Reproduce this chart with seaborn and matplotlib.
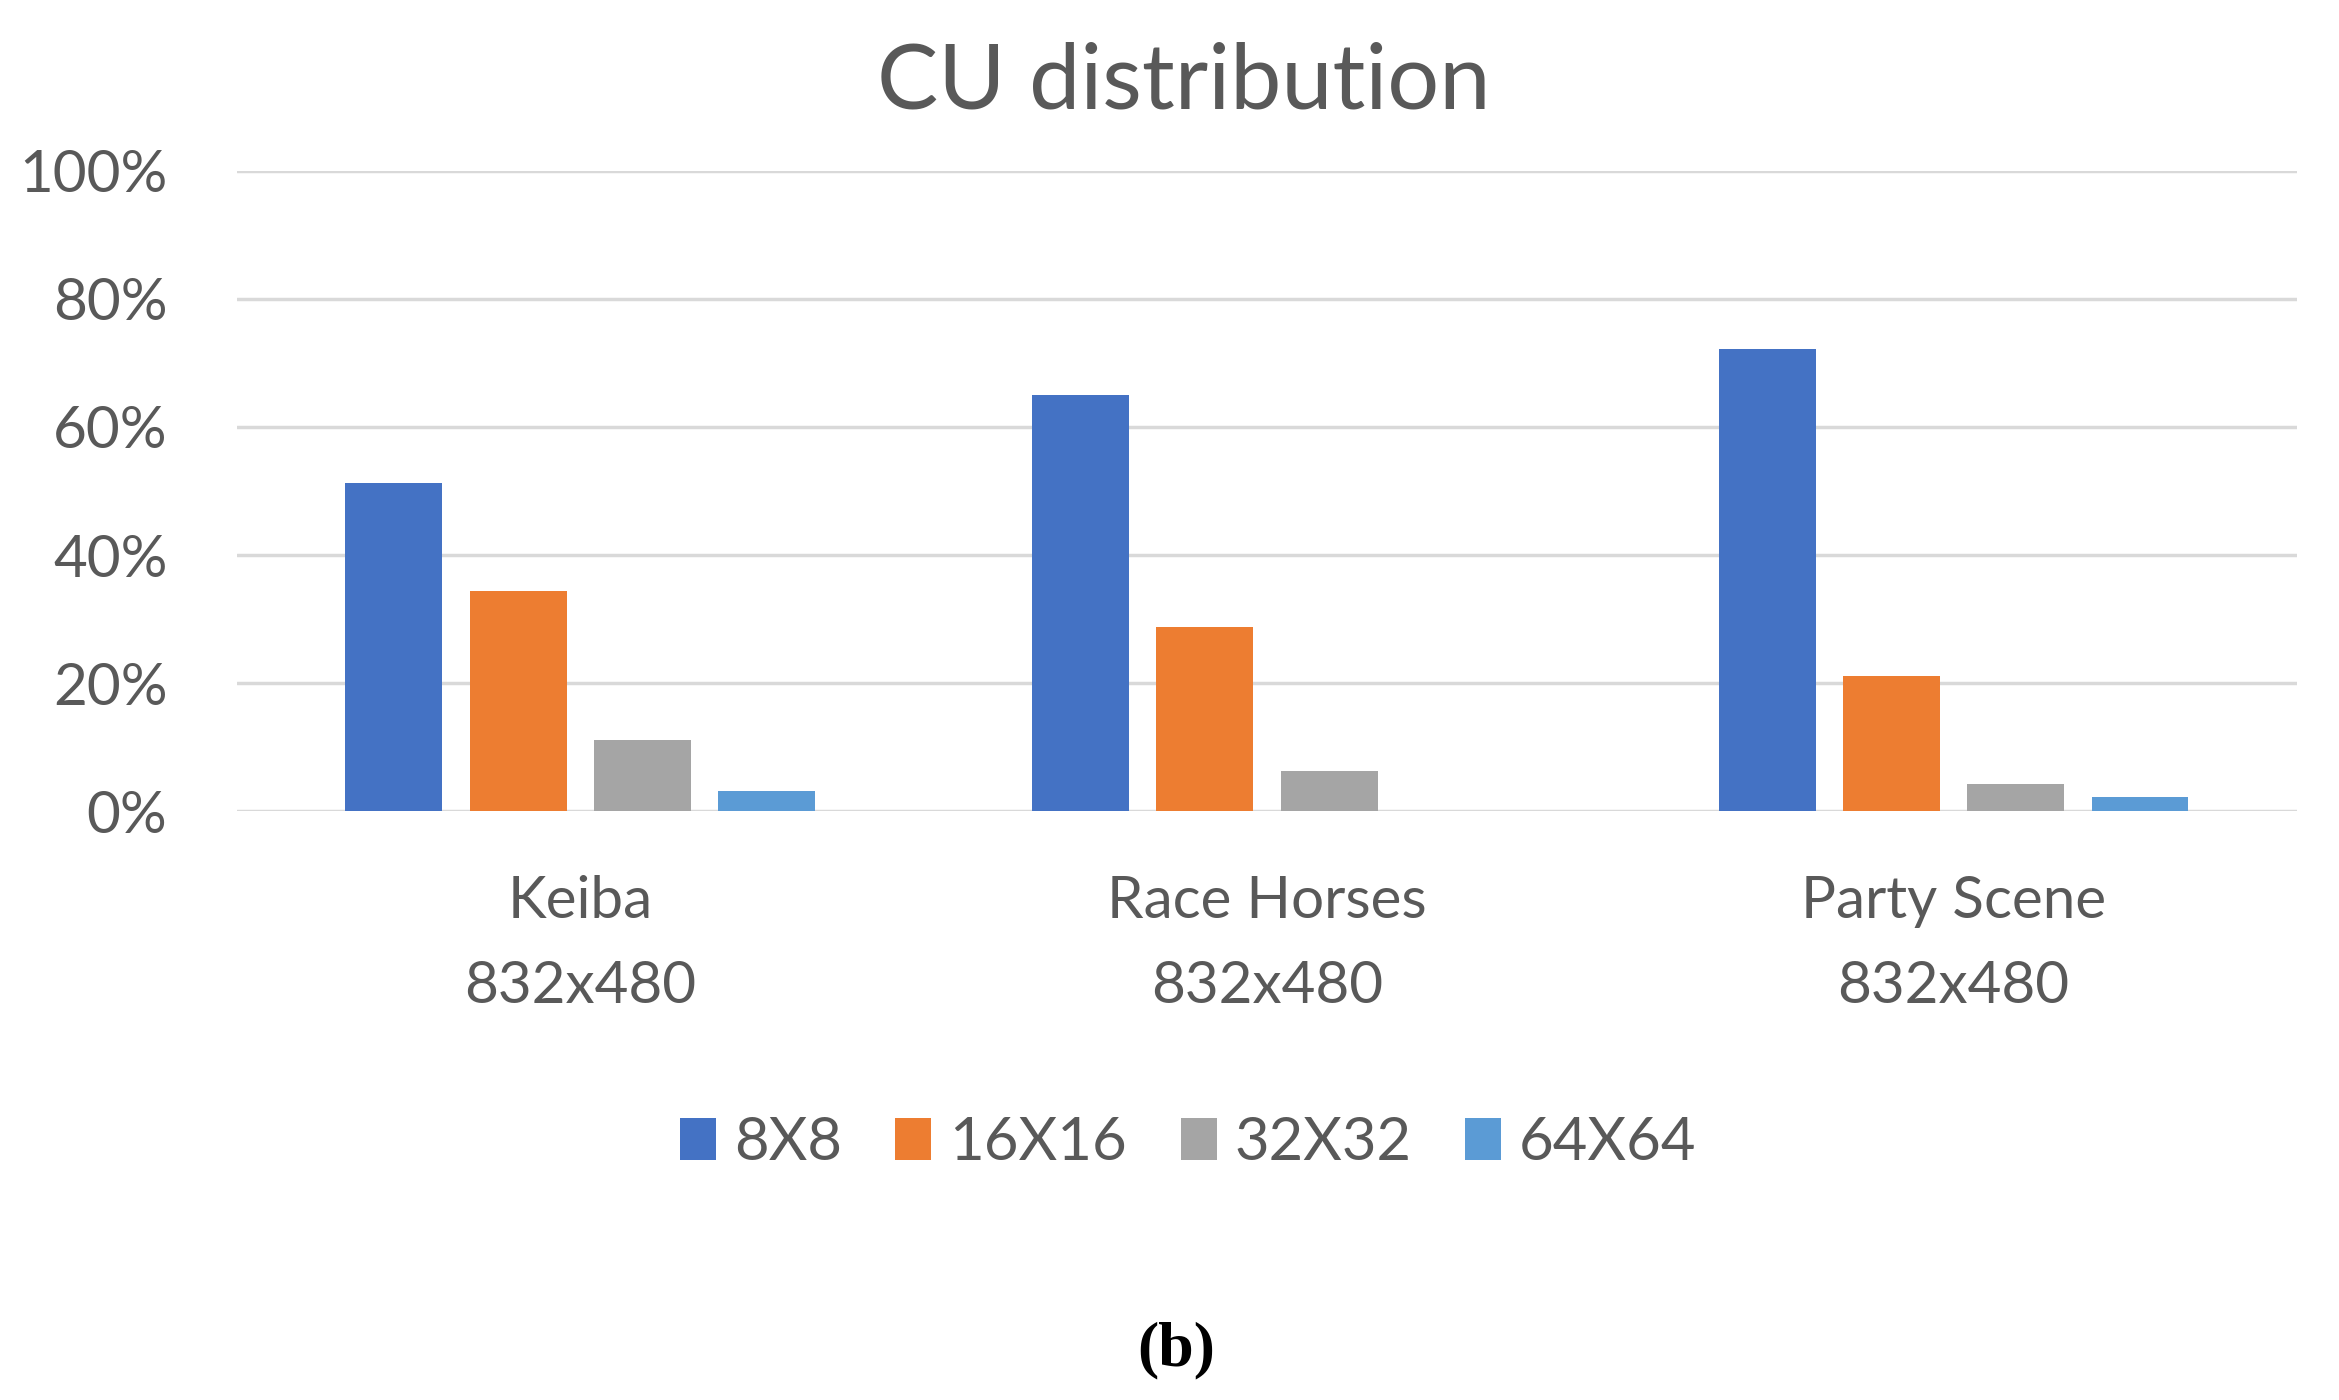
import matplotlib
matplotlib.use("Agg")
import matplotlib.pyplot as plt
import seaborn as sns
import pandas as pd
from matplotlib.ticker import PercentFormatter
from matplotlib.patches import Patch

categories = ["Keiba\n832x480", "Race Horses\n832x480", "Party Scene\n832x480"]
series_names = ["8X8", "16X16", "32X32", "64X64"]
v_8x8 = [0.512, 0.650, 0.722]
v_16x16 = [0.344, 0.288, 0.211]
v_32x32 = [0.112, 0.063, 0.043]
v_64x64 = [0.031, 0.0, 0.022]
colors = ["#4472C4", "#ED7D31", "#A5A5A5", "#5B9BD5"]
yticks = [0, 0.2, 0.4, 0.6, 0.8, 1.0]

rows = []
for name, vals in zip(series_names, [v_8x8, v_16x16, v_32x32, v_64x64]):
    for c, v in zip(categories, vals):
        rows.append({"category": c, "size": name, "value": v})
df = pd.DataFrame(rows)

sns.set_theme(style="white")
plt.rcParams["font.family"] = ["Lato", "DejaVu Sans"]
text_color = "#595959"

fig = plt.figure(figsize=(23.39, 14), dpi=100)
ax = fig.add_axes([0.1013, 0.4205, 0.8807, 0.4575])

sns.barplot(data=df, x="category", y="value", hue="size", order=categories,
            hue_order=series_names, palette=colors, width=0.724, gap=0.22,
            saturation=1, ax=ax, legend=False, linewidth=0)

ax.set_ylim(0, 1.0)
ax.set_xlim(-0.5, 2.5)
ax.set_yticks(yticks)
ax.yaxis.set_major_formatter(PercentFormatter(1.0, decimals=0))
ax.grid(axis="y", color="#D9D9D9", linewidth=2.5)
ax.set_axisbelow(True)
for s in ax.spines.values():
    s.set_visible(False)
ax.set_xlabel("")
ax.set_ylabel("")
ax.tick_params(axis="y", length=0, pad=50, labelsize=42, labelcolor=text_color)
ax.tick_params(axis="x", length=0, pad=46, labelsize=42, labelcolor=text_color)
for lbl in ax.get_xticklabels():
    lbl.set_linespacing(1.75)

fig.text(0.506, 0.941, "CU distribution", ha="center", va="center",
         fontsize=66, color=text_color)

handles = [Patch(facecolor=c, edgecolor="none") for c in colors]
fig.legend(handles, series_names, loc="center", bbox_to_anchor=(0.508, 0.1836),
           ncol=4, frameon=False, fontsize=43, handlelength=0.6, handleheight=0.7,
           handletextpad=0.3, columnspacing=0.9, labelcolor=text_color)

fig.text(0.503, 0.0357, "(b)", ha="center", va="center", fontsize=46,
         fontweight="bold", family=["Liberation Serif", "DejaVu Serif"], color="black")

fig.savefig("out.png", dpi=100, facecolor="white")
